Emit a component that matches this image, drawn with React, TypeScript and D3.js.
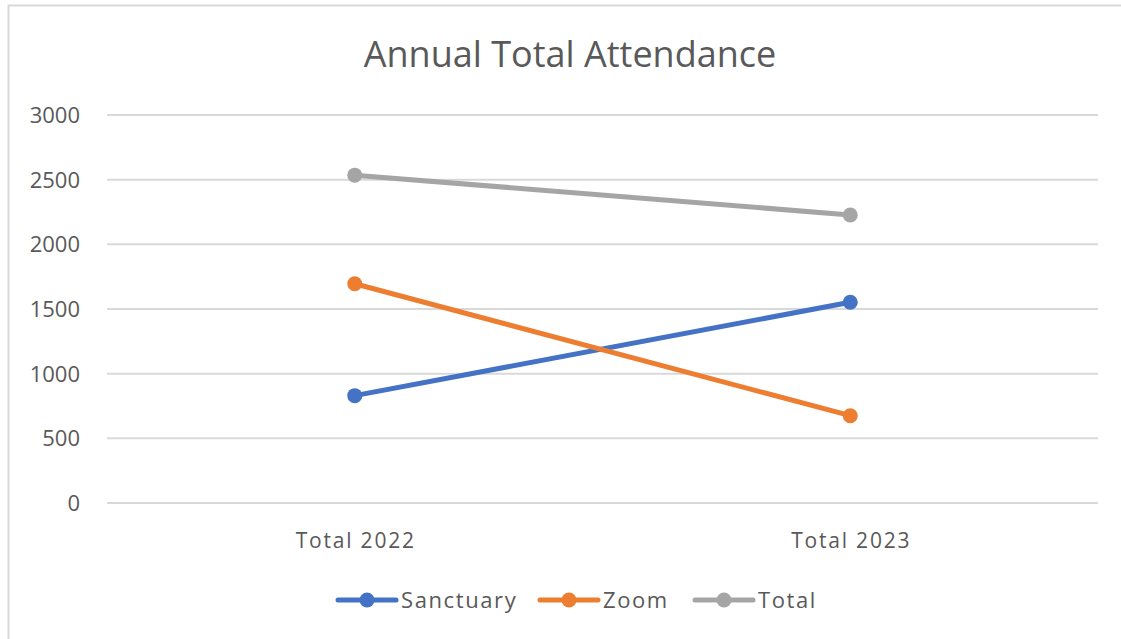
import React, { useEffect, useRef } from 'react';
import * as d3 from 'd3';

const categories = ['Total 2022', 'Total 2023'];
const sanctuary = [830, 1552];
const zoom = [1695, 675];
const total = [2535, 2227];
const yTicks = [0, 500, 1000, 1500, 2000, 2500, 3000];

const seriesNames = ['Sanctuary', 'Zoom', 'Total'];
const seriesColors = ['#4472c4', '#ed7d31', '#a5a5a5'];

export default function App() {
  const ref = useRef<SVGSVGElement>(null);

  useEffect(() => {
    const svg = d3.select(ref.current);
    svg.selectAll('*').remove();
    const W = 1121, H = 639;
    const font = "'Open Sans', 'Noto Sans', sans-serif";

    svg.append('rect').attr('x', 0).attr('y', 0).attr('width', W).attr('height', H).attr('fill', '#fff');
    svg.append('rect')
      .attr('x', 8.5).attr('y', 5.5).attr('width', W + 10).attr('height', H + 10)
      .attr('fill', 'none').attr('stroke', '#d9d9d9').attr('stroke-width', 2);

    svg.append('text')
      .attr('x', 570).attr('y', 67)
      .attr('text-anchor', 'middle')
      .attr('font-family', font).attr('font-size', 36)
      .attr('fill', '#595959')
      .text('Annual Total Attendance');

    const x = d3.scaleBand().domain(categories).range([107, 1098]);
    const y = d3.scaleLinear().domain([0, 3000]).range([503, 115]);
    const cx = (c: string) => (x(c) as number) + x.bandwidth() / 2;

    // gridlines
    svg.append('g').selectAll('line').data(yTicks).enter().append('line')
      .attr('x1', 107).attr('x2', 1098)
      .attr('y1', (d) => y(d)).attr('y2', (d) => y(d))
      .attr('stroke', '#d9d9d9').attr('stroke-width', 2);

    svg.append('g').selectAll('text').data(yTicks).enter().append('text')
      .attr('x', 80).attr('y', (d) => y(d) + 8)
      .attr('text-anchor', 'end')
      .attr('font-family', font).attr('font-size', 22)
      .attr('fill', '#595959')
      .text((d) => d);

    svg.append('g').selectAll('text').data(categories).enter().append('text')
      .attr('x', (d) => cx(d) + 1).attr('y', 548)
      .attr('text-anchor', 'middle')
      .attr('font-family', font).attr('font-size', 21)
      .attr('letter-spacing', 1.8)
      .attr('fill', '#595959')
      .text((d) => d);

    const series = [sanctuary, zoom, total];
    const line = d3.line<number>()
      .x((_, i) => cx(categories[i]))
      .y((d) => y(d));

    series.forEach((vals, si) => {
      const g = svg.append('g');
      g.append('path').datum(vals)
        .attr('d', line)
        .attr('fill', 'none')
        .attr('stroke', seriesColors[si])
        .attr('stroke-width', 5)
        .attr('stroke-linecap', 'round');
      g.selectAll('circle').data(vals).enter().append('circle')
        .attr('cx', (_, i) => cx(categories[i]))
        .attr('cy', (d) => y(d))
        .attr('r', 7.5)
        .attr('fill', seriesColors[si]);
    });

    // legend
    const legendX = [336, 538, 693];
    const ly = 600;
    seriesNames.forEach((name, i) => {
      const g = svg.append('g').attr('transform', `translate(${legendX[i]},${ly})`);
      g.append('line').attr('x1', 2).attr('x2', 60).attr('y1', 0).attr('y2', 0)
        .attr('stroke', seriesColors[i]).attr('stroke-width', 5).attr('stroke-linecap', 'round');
      g.append('circle').attr('cx', 31).attr('cy', 0).attr('r', 7.5).attr('fill', seriesColors[i]);
      g.append('text').attr('x', 65).attr('y', 8)
        .attr('font-family', font).attr('font-size', 22)
        .attr('letter-spacing', 1.6)
        .attr('fill', '#595959')
        .text(name);
    });
  }, []);

  return (
    <svg
      ref={ref}
      width={1121}
      height={639}
      style={{ position: 'absolute', left: 0, top: 0, display: 'block' }}
    />
  );
}
